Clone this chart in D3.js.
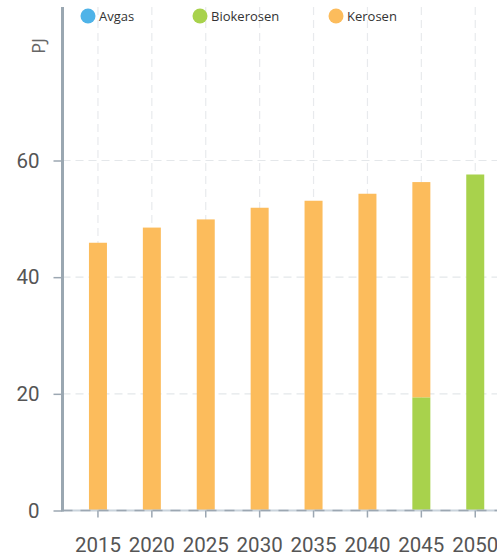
<!DOCTYPE html>
<html>
<head>
<meta charset="utf-8">
<script src="https://cdn.jsdelivr.net/npm/d3@7"></script>
<style>
  html, body { margin: 0; padding: 0; background: #fff; }
  svg { display: block; }
</style>
</head>
<body>
<svg id="chart" width="497" height="559"></svg>
<script>
// ---- data ----
const years = ["2015", "2020", "2025", "2030", "2035", "2040", "2045", "2050"];
const avgas = [0, 0, 0, 0, 0, 0, 0, 0];
const biokerosen = [0, 0, 0, 0, 0, 0, 19.4, 57.6];
const kerosen = [45.9, 48.5, 49.9, 51.9, 53.1, 54.3, 36.9, 0];
const seriesNames = ["Avgas", "Biokerosen", "Kerosen"];
const seriesColors = ["#4fb3e8", "#a8d24c", "#fcbc5c"];
const yTicks = [0, 20, 40, 60];
const yLabel = "PJ";

// ---- build ----
const rows = years.map((y, i) => ({ year: y, Avgas: avgas[i], Biokerosen: biokerosen[i], Kerosen: kerosen[i] }));
const stack = d3.stack().keys(["Avgas", "Biokerosen", "Kerosen"]);
const stacked = stack(rows);

const svg = d3.select("#chart");
const x = d3.scaleBand().domain(years).range([71, 71 + 53.9 * years.length]).padding(0);
const y = d3.scaleLinear().domain([0, 60]).range([510.5, 160.5]);
const barW = 18;
const axisX = 62.5;
const topY = 7;

// gridlines
const grid = svg.append("g");
grid.selectAll("line.h").data(yTicks.filter(t => t > 0)).enter().append("line")
  .attr("x1", axisX).attr("x2", 497)
  .attr("y1", d => y(d)).attr("y2", d => y(d))
  .attr("stroke", "#e4e7ea").attr("stroke-width", 1.2).attr("stroke-dasharray", "8,5");
grid.selectAll("line.v").data(years).enter().append("line")
  .attr("x1", d => x(d) + x.bandwidth() / 2).attr("x2", d => x(d) + x.bandwidth() / 2)
  .attr("y1", topY).attr("y2", y(0))
  .attr("stroke", "#e8eaed").attr("stroke-width", 1.2).attr("stroke-dasharray", "8,5");

// bars
svg.append("g").selectAll("g").data(stacked).enter().append("g")
  .attr("fill", (d, i) => seriesColors[i])
  .selectAll("rect").data(d => d).enter().append("rect")
  .attr("x", d => x(d.data.year) + x.bandwidth() / 2 - barW / 2)
  .attr("width", barW)
  .attr("y", d => y(d[1]))
  .attr("height", d => Math.max(0, y(d[0]) - y(d[1])));

// x axis
const xAxisG = svg.append("g").attr("transform", `translate(0,${y(0)})`);
xAxisG.append("line").attr("x1", axisX).attr("x2", 497).attr("y1", 0).attr("y2", 0)
  .attr("stroke", "#c9d3dc").attr("stroke-width", 2);
xAxisG.append("line").attr("x1", axisX).attr("x2", 497).attr("y1", 0).attr("y2", 0)
  .attr("stroke", "#9ca7b2").attr("stroke-width", 1.5).attr("stroke-dasharray", "10,8");
const xAxis = d3.axisBottom(x).tickSize(7).tickPadding(20);
const xa = svg.append("g").attr("transform", `translate(0,${y(0)})`).call(xAxis);
xa.select(".domain").remove();
xa.selectAll(".tick line").attr("stroke", "#9ca7b2").attr("stroke-width", 1.5);
xa.selectAll(".tick text").attr("fill", "#555").attr("font-family", "Roboto, sans-serif").attr("font-size", 20.5);

// y axis
const yAxis = d3.axisLeft(y).tickValues(yTicks).tickSize(9).tickPadding(14);
const ya = svg.append("g").attr("transform", `translate(${axisX},0)`).call(yAxis);
ya.select(".domain").remove();
ya.selectAll(".tick line").attr("stroke", "#9ca7b2").attr("stroke-width", 1.5);
ya.selectAll(".tick text").attr("fill", "#555").attr("font-family", "Roboto, sans-serif").attr("font-size", 20.5);
svg.append("line").attr("x1", axisX).attr("x2", axisX).attr("y1", topY).attr("y2", y(0) + 1)
  .attr("stroke", "#9aa7b1").attr("stroke-width", 3);

svg.append("text").attr("transform", "translate(45,46) rotate(-90)")
  .attr("text-anchor", "middle").attr("fill", "#666")
  .attr("font-family", "'Open Sans', sans-serif").attr("font-size", 18).text(yLabel);

// legend
const legendX = [88, 200, 336];
const lg = svg.append("g");
seriesNames.forEach((name, i) => {
  lg.append("circle").attr("cx", legendX[i]).attr("cy", 16).attr("r", 7.5).attr("fill", seriesColors[i]);
  lg.append("text").attr("x", legendX[i] + 11).attr("y", 21)
    .attr("fill", "#333").attr("font-family", "'Open Sans', sans-serif").attr("font-size", 13).text(name);
});
</script>
</body>
</html>
